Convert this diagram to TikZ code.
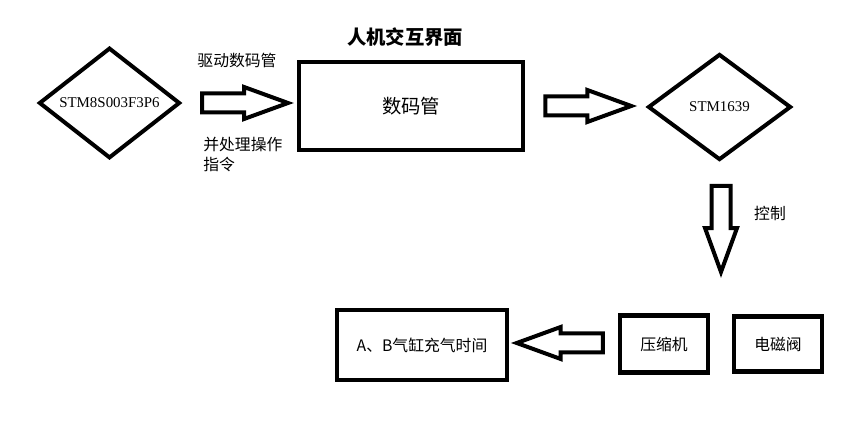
\documentclass[tikz,border=0pt]{standalone}
\usepackage{fontspec}
\setmainfont{Liberation Serif}
\newfontfamily\cjk{Noto Sans CJK SC}
\usetikzlibrary{shapes.geometric,shapes.arrows,calc}

\begin{document}
\begin{tikzpicture}[
      blk/.style={draw=black, line width=0.09cm, align=center, font=\cjk\fontsize{9}{11}\selectfont, inner sep=0pt},
      chip/.style={diamond, draw=black, line width=0.08cm, inner sep=0pt, font=\fontsize{8.5}{10}\selectfont},
      fatarrow/.style={single arrow, draw=black, line width=0.08cm, inner sep=0.15cm, anchor=tail,
        single arrow head extend=0.13cm, single arrow tip angle=40, minimum height=1.72cm},
      lbl/.style={font=\cjk\fontsize{9}{11.3}\selectfont, align=left, inner sep=0pt}]
    \useasboundingbox (0,0) rectangle (17.14,-8.44);
    \node[chip, minimum width=2.82cm, minimum height=2.08cm] (mcu) at (2.19,-2.06) {STM8S003F3P6};
    \node[blk, minimum width=4.48cm, minimum height=1.76cm, font=\cjk\fontsize{11}{13}\selectfont] (disp) at (8.22,-2.12) {数码管};
    \node[chip, minimum width=2.86cm, minimum height=2.12cm] (tm) at (14.39,-2.14) {STM1639};
    \node[blk, minimum width=1.76cm, minimum height=1.14cm] (comp) at (13.28,-6.88) {压缩机};
    \node[blk, minimum width=1.76cm, minimum height=1.10cm] (valve) at (15.56,-6.88) {电磁阀};
    \node[blk, minimum width=3.4cm, minimum height=1.4cm] (cyl) at (8.44,-6.9) {A{\cjk 、}B{\cjk 气缸充气时间}};
    % labels
    \node[lbl, font=\cjk\bfseries\fontsize{11}{13}\selectfont] (hmi) at (8.1,-0.74) {人机交互界面};
    \node[lbl] (drive) at (4.74,-1.2) {驱动数码管};
    \node[lbl, anchor=north west] (cmd) at (4.06,-2.74) {并处理操作\\指令};
    \node[lbl] (ctrl) at (15.4,-4.26) {控制};
    % block arrows
    \node[fatarrow] (a1) at ($(mcu.east)+(0.36,0)$) {};
    \node[fatarrow] (a2) at ($(disp.east)+(0.36,0)$) {};
    \node[fatarrow, shape border rotate=270] (a3) at ($(tm.south)+(0.03,-0.44)$) {};
    \node[fatarrow, shape border rotate=180] (a4) at ($(comp.west)+(-0.26,0.02)$) {};
  \end{tikzpicture}
\end{document}
